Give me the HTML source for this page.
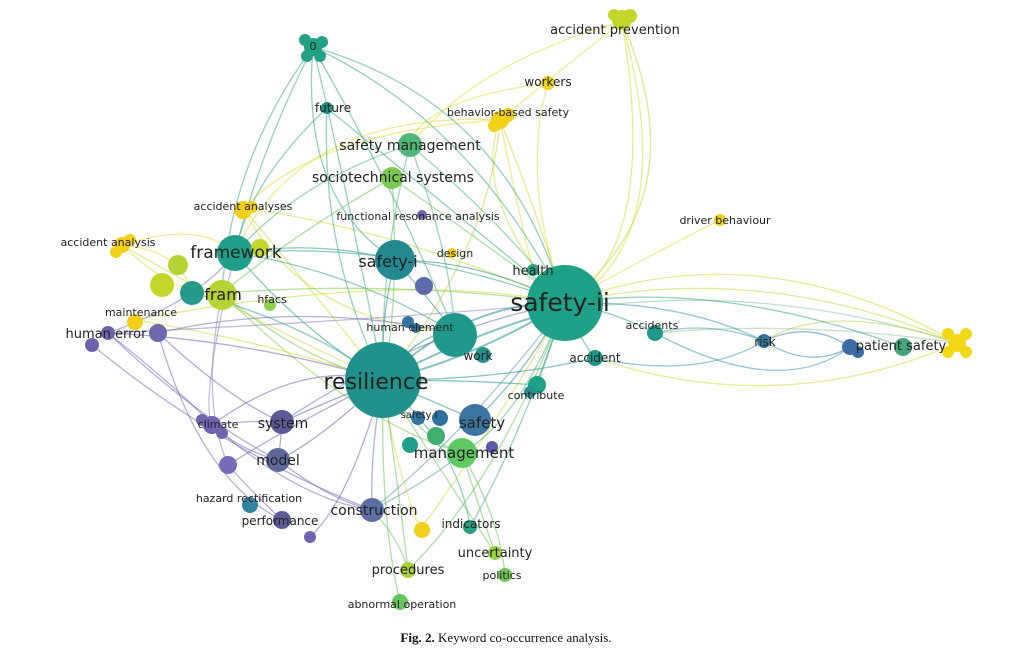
<!DOCTYPE html>
<html><head><meta charset="utf-8"><style>
html,body{margin:0;padding:0;background:#fff;}
svg{display:block;}
text{font-family:"DejaVu Sans","Liberation Sans",sans-serif;fill:#222;}
.cap{font-family:"Liberation Serif",serif;font-size:13px;fill:#111;}
</style></head><body>
<svg width="1012" height="670" viewBox="0 0 1012 670" xmlns="http://www.w3.org/2000/svg">
<g fill="none" stroke-width="1.3" stroke-opacity="0.55">
<path d="M622,22 Q700,200 565,303" stroke="#c9d62a"/>
<path d="M622,22 Q660,250 565,303" stroke="#d6dc2c"/>
<path d="M622,22 Q680,230 575,300" stroke="#d6dc2c"/>
<path d="M622,22 Q480,60 410,145" stroke="#e3df3a"/>
<path d="M622,22 Q560,70 500,120" stroke="#e3df3a"/>
<path d="M548,83 Q520,180 565,303" stroke="#e3df3a"/>
<path d="M548,83 Q420,100 410,145" stroke="#e3df3a"/>
<path d="M500,120 Q520,220 533,270" stroke="#e6dc30"/>
<path d="M500,120 Q470,200 565,303" stroke="#d8d82f"/>
<path d="M500,120 Q540,220 560,290" stroke="#d8d82f"/>
<path d="M500,120 Q320,130 243,208" stroke="#e6dc30"/>
<path d="M500,120 Q300,110 235,253" stroke="#e6dc30"/>
<path d="M500,120 Q490,250 383,380" stroke="#c6d43a"/>
<path d="M720,220 Q640,260 565,303" stroke="#e3dc3a"/>
<path d="M957,343 Q760,230 565,303" stroke="#d8d83a"/>
<path d="M957,343 Q760,260 565,303" stroke="#c9d640"/>
<path d="M957,343 Q760,280 570,310" stroke="#8ac8a0"/>
<path d="M957,343 Q780,420 595,358" stroke="#d8d83a"/>
<path d="M957,343 Q830,300 764,341" stroke="#b8d44a"/>
<path d="M957,343 Q800,320 655,333" stroke="#a0c8a0"/>
<path d="M122,245 Q200,220 235,253" stroke="#e6dc30"/>
<path d="M122,245 Q250,320 383,380" stroke="#d4d838"/>
<path d="M122,245 Q180,300 222,293" stroke="#e6dc30"/>
<path d="M122,245 Q180,250 192,293" stroke="#e6dc30"/>
<path d="M243,208 Q320,300 383,380" stroke="#d4d838"/>
<path d="M243,208 Q300,320 455,333" stroke="#d4d838"/>
<path d="M243,208 Q400,230 565,303" stroke="#d4d838"/>
<path d="M135,320 Q260,340 383,380" stroke="#d4d838"/>
<path d="M135,320 Q400,270 565,303" stroke="#d4d838"/>
<path d="M420,530 Q390,450 383,380" stroke="#e1da38"/>
<path d="M420,530 Q500,420 565,303" stroke="#d4d838"/>
<path d="M313,47 Q260,150 235,253" stroke="#3aaa8a"/>
<path d="M313,47 Q230,160 222,293" stroke="#3aaa8a"/>
<path d="M313,47 Q350,200 383,380" stroke="#3aaa8a"/>
<path d="M313,47 Q470,120 565,303" stroke="#3aaa8a"/>
<path d="M313,47 Q500,100 560,290" stroke="#3aaa8a"/>
<path d="M313,47 Q400,200 455,333" stroke="#3aaa8a"/>
<path d="M313,47 Q300,200 395,260" stroke="#3aaa8a"/>
<path d="M327,108 Q250,180 235,253" stroke="#3aaa8a"/>
<path d="M327,108 Q440,200 565,303" stroke="#3aaa8a"/>
<path d="M327,108 Q320,250 383,380" stroke="#3aaa8a"/>
<path d="M410,145 Q500,220 565,303" stroke="#4cb87a"/>
<path d="M410,145 Q300,180 235,253" stroke="#4cb87a"/>
<path d="M410,145 Q380,260 383,380" stroke="#4cb87a"/>
<path d="M410,145 Q450,250 455,333" stroke="#4cb87a"/>
<path d="M392,178 Q480,240 565,303" stroke="#6cc55a"/>
<path d="M392,178 Q300,230 222,293" stroke="#6cc55a"/>
<path d="M392,178 Q400,300 383,380" stroke="#6cc55a"/>
<path d="M235,253 Q400,240 565,303" stroke="#2ea08a"/>
<path d="M235,253 Q300,330 383,380" stroke="#2ea08a"/>
<path d="M235,253 Q350,270 455,333" stroke="#2ea08a"/>
<path d="M235,253 Q320,240 395,260" stroke="#2ea08a"/>
<path d="M222,293 Q400,280 565,303" stroke="#7ac850"/>
<path d="M222,293 Q300,360 383,380" stroke="#7ac850"/>
<path d="M222,293 Q350,420 462,453" stroke="#8ccc48"/>
<path d="M192,293 Q300,320 383,380" stroke="#2ea08a"/>
<path d="M395,260 Q480,260 565,303" stroke="#2a8c8c"/>
<path d="M395,260 Q380,320 383,380" stroke="#2a8c8c"/>
<path d="M395,260 Q430,300 455,333" stroke="#2a8c8c"/>
<path d="M383,380 Q470,300 565,303" stroke="#21918c" stroke-width="2"/>
<path d="M383,380 Q470,360 565,303" stroke="#21918c" stroke-width="2"/>
<path d="M383,380 Q480,330 560,310" stroke="#21918c" stroke-width="2"/>
<path d="M383,380 Q420,330 455,333" stroke="#21918c"/>
<path d="M383,380 Q430,400 475,420" stroke="#21918c"/>
<path d="M383,380 Q420,440 462,453" stroke="#4cb87a"/>
<path d="M383,380 Q370,450 372,510" stroke="#5c7aa6"/>
<path d="M383,380 Q330,400 282,422" stroke="#5b6a9b"/>
<path d="M383,380 Q320,440 278,460" stroke="#5b6a9b"/>
<path d="M383,380 Q460,450 470,527" stroke="#3aaa8a"/>
<path d="M383,380 Q400,500 408,570" stroke="#6cc55a"/>
<path d="M383,380 Q460,500 495,553" stroke="#6cc55a"/>
<path d="M383,380 Q380,520 400,602" stroke="#6cc55a"/>
<path d="M383,380 Q470,380 537,385" stroke="#21918c"/>
<path d="M383,380 Q500,380 595,358" stroke="#21918c"/>
<path d="M565,303 Q520,380 475,420" stroke="#21918c"/>
<path d="M565,303 Q520,420 462,453" stroke="#4cb87a"/>
<path d="M565,303 Q610,310 655,333" stroke="#2a9a8a"/>
<path d="M565,303 Q580,340 595,358" stroke="#2a9a8a"/>
<path d="M565,303 Q550,350 537,385" stroke="#2a9a8a"/>
<path d="M565,303 Q680,300 764,341" stroke="#3a9ab0"/>
<path d="M565,303 Q720,280 903,347" stroke="#3aaa8a"/>
<path d="M565,303 Q470,430 372,510" stroke="#5c9aa6"/>
<path d="M565,303 Q520,440 470,527" stroke="#3aaa8a"/>
<path d="M565,303 Q420,330 282,422" stroke="#6a7ab0"/>
<path d="M565,303 Q380,320 108,333" stroke="#8a8ac0"/>
<path d="M565,303 Q500,480 408,570" stroke="#6cc55a"/>
<path d="M655,333 Q710,320 764,341" stroke="#3a9ab0"/>
<path d="M655,333 Q780,400 850,347" stroke="#3a9ab0"/>
<path d="M764,341 Q810,320 850,347" stroke="#3a8ab0"/>
<path d="M764,341 Q810,370 850,347" stroke="#3a8ab0"/>
<path d="M595,358 Q700,380 764,341" stroke="#3a9ab0"/>
<path d="M108,333 Q200,300 235,253" stroke="#7a6ab5"/>
<path d="M108,333 Q180,390 212,425" stroke="#7a6ab5"/>
<path d="M108,333 Q200,420 278,460" stroke="#7a6ab5"/>
<path d="M108,333 Q250,340 383,380" stroke="#7a6ab5"/>
<path d="M92,345 Q220,450 372,510" stroke="#7a6ab5"/>
<path d="M158,333 Q230,400 282,422" stroke="#7a6ab5"/>
<path d="M158,333 Q200,480 282,520" stroke="#7a6ab5"/>
<path d="M158,333 Q300,300 455,333" stroke="#7a6ab5"/>
<path d="M212,425 Q250,420 282,422" stroke="#7a6ab5"/>
<path d="M212,425 Q240,450 278,460" stroke="#7a6ab5"/>
<path d="M212,425 Q300,500 372,510" stroke="#7a6ab5"/>
<path d="M212,425 Q300,360 383,380" stroke="#7a6ab5"/>
<path d="M228,465 Q250,490 282,520" stroke="#7a6ab5"/>
<path d="M228,465 Q300,420 383,380" stroke="#7a6ab5"/>
<path d="M278,460 Q330,500 372,510" stroke="#6a70b0"/>
<path d="M282,422 Q280,450 278,460" stroke="#6a70b0"/>
<path d="M222,293 Q200,400 228,465" stroke="#8a8ac0"/>
<path d="M235,253 Q200,400 212,425" stroke="#8a8ac0"/>
<path d="M372,510 Q430,480 462,453" stroke="#5c9aa6"/>
<path d="M372,510 Q400,540 408,570" stroke="#6cc55a"/>
<path d="M462,453 Q480,510 495,553" stroke="#6cc55a"/>
<path d="M462,453 Q500,520 505,575" stroke="#6cc55a"/>
<path d="M310,537 Q350,500 383,380" stroke="#7a6ab5"/>
</g>
<g>
<circle cx="622" cy="20" r="10" fill="#c4d62a"/><circle cx="630" cy="16" r="7" fill="#c4d62a"/><circle cx="614" cy="15" r="6" fill="#c4d62a"/>
<circle cx="548" cy="83" r="7" fill="#f0d420"/>
<circle cx="500" cy="120" r="9" fill="#f2cf18"/><circle cx="508" cy="115" r="7" fill="#f2cf18"/><circle cx="494" cy="126" r="6" fill="#f2cf18"/>
<circle cx="313" cy="47" r="9" fill="#23a085"/><circle cx="305" cy="40" r="6" fill="#23a085"/><circle cx="322" cy="42" r="6" fill="#23a085"/><circle cx="307" cy="56" r="6" fill="#23a085"/><circle cx="320" cy="56" r="6" fill="#23a085"/>
<circle cx="327" cy="108" r="6" fill="#1f9086"/>
<circle cx="410" cy="145" r="12" fill="#4fb879"/>
<circle cx="392" cy="178" r="11" fill="#7ac850"/>
<circle cx="243" cy="210" r="9" fill="#f2cf18"/><circle cx="252" cy="207" r="6" fill="#f2cf18"/>
<circle cx="422" cy="215" r="5" fill="#7262b0"/>
<circle cx="720" cy="220" r="6" fill="#f2cf18"/>
<circle cx="122" cy="245" r="8" fill="#f2cf18"/><circle cx="130" cy="240" r="6" fill="#f2cf18"/><circle cx="116" cy="252" r="6" fill="#f2cf18"/>
<circle cx="178" cy="265" r="10" fill="#b5d334"/><circle cx="162" cy="285" r="12" fill="#c4d62a"/>
<circle cx="235" cy="253" r="18" fill="#1f9e89"/>
<circle cx="260" cy="248" r="9" fill="#c4d62a"/>
<circle cx="222" cy="295" r="15" fill="#b5d334"/>
<circle cx="192" cy="293" r="12" fill="#25998a"/>
<circle cx="270" cy="305" r="6" fill="#8fd14f"/>
<circle cx="135" cy="322" r="8" fill="#f2cf18"/>
<circle cx="108" cy="333" r="7" fill="#6b63ad"/><circle cx="92" cy="345" r="7" fill="#6b63ad"/><circle cx="158" cy="333" r="9" fill="#6e6aae"/>
<circle cx="395" cy="260" r="20" fill="#23898e"/>
<circle cx="424" cy="286" r="9" fill="#5f6aad"/>
<circle cx="452" cy="253" r="5" fill="#f2cf18"/>
<circle cx="533" cy="270" r="6" fill="#2aa084"/>
<circle cx="565" cy="303" r="38" fill="#1fa187"/>
<circle cx="455" cy="335" r="22" fill="#21988c"/>
<circle cx="408" cy="322" r="6" fill="#3472a0"/><circle cx="416" cy="328" r="5" fill="#2d708e"/>
<circle cx="483" cy="355" r="8" fill="#26918c"/>
<circle cx="383" cy="380" r="38" fill="#21918c"/>
<circle cx="655" cy="333" r="8" fill="#1f9a8a"/>
<circle cx="595" cy="358" r="8" fill="#1f968b"/>
<circle cx="537" cy="385" r="9" fill="#1fa088"/><circle cx="530" cy="392" r="6" fill="#2a8c8c"/>
<circle cx="764" cy="341" r="7" fill="#33789c"/>
<circle cx="850" cy="347" r="8" fill="#3b6ca8"/><circle cx="858" cy="352" r="6" fill="#3b6ca8"/>
<circle cx="903" cy="347" r="9" fill="#43a57a"/>
<circle cx="957" cy="343" r="9" fill="#f2d716"/><circle cx="948" cy="334" r="6" fill="#f2d716"/><circle cx="966" cy="334" r="6" fill="#f2d716"/><circle cx="948" cy="352" r="6" fill="#f2d716"/><circle cx="966" cy="352" r="6" fill="#f2d716"/>
<circle cx="212" cy="425" r="9" fill="#7262b0"/><circle cx="202" cy="420" r="6" fill="#7262b0"/><circle cx="222" cy="433" r="6" fill="#7262b0"/>
<circle cx="282" cy="422" r="12" fill="#5b5a97"/>
<circle cx="228" cy="465" r="9" fill="#7a6ab8"/>
<circle cx="278" cy="460" r="12" fill="#5b6a9b"/>
<circle cx="418" cy="418" r="7" fill="#3472a0"/><circle cx="440" cy="418" r="8" fill="#2f6f9c"/>
<circle cx="475" cy="420" r="16" fill="#3c75a0"/>
<circle cx="492" cy="447" r="6" fill="#5a58a8"/>
<circle cx="410" cy="445" r="8" fill="#1f9e89"/><circle cx="436" cy="436" r="9" fill="#3fae6e"/>
<circle cx="462" cy="453" r="15" fill="#5ec962"/>
<circle cx="250" cy="505" r="8" fill="#3183a0"/>
<circle cx="282" cy="520" r="9" fill="#5b5a97"/>
<circle cx="310" cy="537" r="6" fill="#7262b0"/>
<circle cx="372" cy="510" r="12" fill="#5c6ea6"/>
<circle cx="422" cy="530" r="8" fill="#f2cf18"/>
<circle cx="470" cy="527" r="7" fill="#2aa080"/>
<circle cx="495" cy="553" r="7" fill="#9ad443"/>
<circle cx="505" cy="575" r="7" fill="#74c654"/>
<circle cx="408" cy="570" r="8" fill="#a8d23a"/>
<circle cx="400" cy="602" r="8" fill="#66c45c"/>
</g>
<g text-anchor="middle">
<text x="615" y="34" font-size="13">accident prevention</text>
<text x="548" y="86" font-size="12">workers</text>
<text x="508" y="116" font-size="11">behavior-based safety</text>
<text x="313" y="50" font-size="11">0</text>
<text x="333" y="112" font-size="12">future</text>
<text x="410" y="150" font-size="14">safety management</text>
<text x="393" y="182" font-size="14">sociotechnical systems</text>
<text x="243" y="210" font-size="11">accident analyses</text>
<text x="418" y="220" font-size="11">functional resonance analysis</text>
<text x="725" y="224" font-size="11">driver behaviour</text>
<text x="108" y="246" font-size="11">accident analysis</text>
<text x="236" y="258" font-size="17">framework</text>
<text x="388" y="267" font-size="16">safety-i</text>
<text x="455" y="257" font-size="11">design</text>
<text x="533" y="275" font-size="13">health</text>
<text x="560" y="311" font-size="25">safety-ii</text>
<text x="223" y="300" font-size="16">fram</text>
<text x="272" y="303" font-size="11">hfacs</text>
<text x="141" y="316" font-size="11">maintenance</text>
<text x="106" y="338" font-size="13">human error</text>
<text x="410" y="331" font-size="11">human element</text>
<text x="478" y="360" font-size="12">work</text>
<text x="652" y="329" font-size="11">accidents</text>
<text x="595" y="362" font-size="12">accident</text>
<text x="765" y="346" font-size="12">risk</text>
<text x="901" y="350" font-size="13">patient safety</text>
<text x="376" y="389" font-size="22">resilience</text>
<text x="536" y="399" font-size="11">contribute</text>
<text x="419" y="418" font-size="10">safety i</text>
<text x="482" y="428" font-size="15">safety</text>
<text x="464" y="458" font-size="15">management</text>
<text x="218" y="428" font-size="11">climate</text>
<text x="283" y="428" font-size="14">system</text>
<text x="278" y="465" font-size="14">model</text>
<text x="249" y="502" font-size="11">hazard rectification</text>
<text x="280" y="525" font-size="12">performance</text>
<text x="374" y="515" font-size="14">construction</text>
<text x="471" y="528" font-size="12">indicators</text>
<text x="495" y="557" font-size="13">uncertainty</text>
<text x="502" y="579" font-size="11">politics</text>
<text x="408" y="574" font-size="13">procedures</text>
<text x="402" y="608" font-size="11">abnormal operation</text>
</g>
<text x="506" y="642" text-anchor="middle" class="cap"><tspan font-weight="bold">Fig. 2.</tspan> Keyword co-occurrence analysis.</text>
</svg>
</body></html>
